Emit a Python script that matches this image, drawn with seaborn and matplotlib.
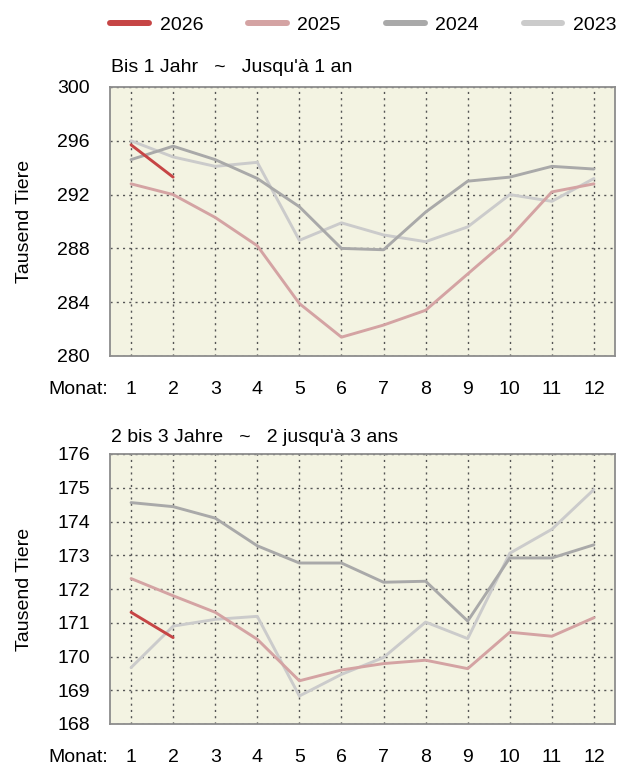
import numpy as np
import pandas as pd
import matplotlib
matplotlib.use('Agg')
import matplotlib.pyplot as plt
from matplotlib.lines import Line2D
import seaborn as sns

months = list(range(1, 13))
years = ['2026', '2025', '2024', '2023']
colors = {'2026': '#c64545', '2025': '#d4a3a3', '2024': '#a9a9a9', '2023': '#cbcbcb'}

# Bis 1 Jahr ~ Jusqu'a 1 an
young_2026 = [295.7, 293.3]
young_2025 = [292.8, 292.0, 290.3, 288.2, 283.9, 281.4, 282.3, 283.4, 286.1, 288.8, 292.2, 292.8]
young_2024 = [294.6, 295.6, 294.6, 293.2, 291.1, 288.0, 287.9, 290.7, 293.0, 293.3, 294.1, 293.9]
young_2023 = [296.0, 294.8, 294.1, 294.4, 288.6, 289.9, 289.0, 288.5, 289.6, 292.0, 291.5, 293.2]

# 2 bis 3 Jahre ~ 2 jusqu'a 3 ans
mid_2026 = [171.31, 170.56]
mid_2025 = [172.31, 171.80, 171.31, 170.51, 169.28, 169.60, 169.79, 169.89, 169.64, 170.72, 170.60, 171.15]
mid_2024 = [174.56, 174.44, 174.10, 173.28, 172.77, 172.77, 172.20, 172.23, 171.05, 172.92, 172.92, 173.31]
mid_2023 = [169.67, 170.90, 171.10, 171.19, 168.83, 169.47, 169.97, 171.02, 170.53, 173.06, 173.77, 174.95]


def to_long(series):
    rows = []
    for year, vals in series.items():
        for m, v in zip(months, vals):
            rows.append({'Monat': m, 'Jahr': year, 'Wert': v})
    return pd.DataFrame(rows)


panels = [
    {
        'title': "Bis 1 Jahr   ~   Jusqu'à 1 an",
        'data': to_long({'2023': young_2023, '2024': young_2024, '2025': young_2025, '2026': young_2026}),
        'ylim': (280, 300), 'yticks': [280, 284, 288, 292, 296, 300],
    },
    {
        'title': "2 bis 3 Jahre   ~   2 jusqu'à 3 ans",
        'data': to_long({'2023': mid_2023, '2024': mid_2024, '2025': mid_2025, '2026': mid_2026}),
        'ylim': (168, 176), 'yticks': list(range(168, 177)),
    },
]

sns.set_style('white')
plt.rcParams['font.family'] = ['Liberation Sans', 'DejaVu Sans']
plt.rcParams['font.size'] = 14
plt.rcParams['text.color'] = 'black'
plt.rcParams['axes.labelcolor'] = 'black'

W, H = 617, 769
fig = plt.figure(figsize=(W / 100, H / 100), dpi=100)

# axes boxes in pixels: (left, top, right, bottom)
boxes = [(110, 87, 615, 356), (110, 454, 615, 724)]
title_y = [68, 437]

axes = []
for panel, box, ty in zip(panels, boxes, title_y):
    l, t, r, b = box
    ax = fig.add_axes([l / W, 1 - b / H, (r - l) / W, (b - t) / H])
    ax.set_facecolor('#f3f3e2')
    sns.lineplot(data=panel['data'], x='Monat', y='Wert', hue='Jahr',
                 hue_order=['2023', '2024', '2025', '2026'], palette=colors,
                 linewidth=2.1, legend=False, ax=ax)
    ax.set_xlim(0.5, 12.5)
    ax.set_ylim(*panel['ylim'])
    ax.set_xticks(months)
    ax.set_yticks(panel['yticks'])
    ax.set_xlabel('')
    ax.set_ylabel('Tausend Tiere', fontsize=14, labelpad=17)
    ax.grid(True, linestyle=(0, (1.5, 3)), color='#555555', linewidth=1.0)
    for s in ax.spines.values():
        s.set_color('#8c8c8c')
        s.set_linewidth(1.3)
    ax.tick_params(axis='both', direction='out', length=9.5, width=1.3,
                   color='#8c8c8c', labelcolor='black', labelsize=14, pad=5)
    ax.tick_params(axis='x', pad=8.5)
    fig.text(111 / W, 1 - ty / H, panel['title'], ha='left', va='center', fontsize=14)
    axes.append(ax)

# "Monat:" on the same line as the month labels
fig.canvas.draw()
renderer = fig.canvas.get_renderer()
for ax in axes:
    bb = ax.get_xticklabels()[0].get_window_extent(renderer)
    fig.text(108 / W, (bb.y0 + bb.y1) / 2 / fig.bbox.height, 'Monat:',
             ha='right', va='center', fontsize=14)

handles = [Line2D([0], [0], color=colors[y], linewidth=4.3) for y in years]
fig.legend(handles, years, loc='center left', bbox_to_anchor=(110 / W, 1 - 25 / H),
           ncol=4, frameon=False, borderpad=0, borderaxespad=0, fontsize=14,
           handlelength=2.0, handletextpad=0.55, columnspacing=2.3)

fig.savefig('out.png', dpi=100)
